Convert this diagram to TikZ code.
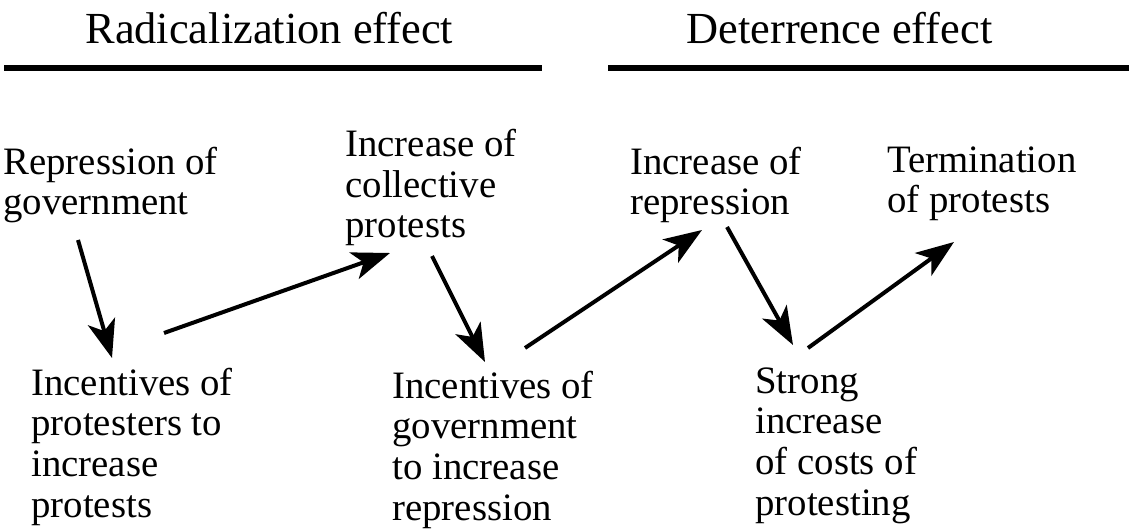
\documentclass[tikz,border=0pt]{standalone}
\usepackage{fontspec}
\setmainfont{Liberation Serif}
\usepackage{tikz}
\usetikzlibrary{arrows.meta}

\begin{document}
\begin{tikzpicture}[
    x=0.5pt, y=-0.5pt,
    lbl/.style={anchor=base west, inner sep=0pt, align=left,
      font=\fontsize{19.4pt}{20.3pt}\selectfont},
    headlbl/.style={lbl, font=\fontsize{22.2pt}{24pt}\selectfont},
    flow/.style={line width=2pt, -{Stealth[length=19pt, width=14pt, inset=5pt]}},
    bar/.style={line width=2.6pt}
]
  \useasboundingbox (0,0) rectangle (1129,529);
  % Headers
  \node[headlbl] (radhead) at (85,44) {Radicalization effect};
  \node[headlbl] (dethead) at (686,44) {Deterrence effect};
  \draw[bar] (4,68) -- (542,68);
  \draw[bar] (608,68) -- (1129,68);
  % Steps (base = last line)
  \node[lbl] (repgov) at (3,215) {Repression of\\government};
  \node[lbl] (incprot) at (31,517) {Incentives of\\protesters to\\increase\\protests};
  \node[lbl] (incoll) at (345,238) {Increase of\\collective\\protests};
  \node[lbl] (incgov) at (392,520) {Incentives of\\government\\to increase\\repression};
  \node[lbl] (increp) at (630,215) {Increase of\\repression};
  \node[lbl] (strong) at (755,515) {Strong\\increase\\of costs of\\protesting};
  \node[lbl] (termin) at (887,213) {Termination\\of protests};
  % Arrow ends
  \coordinate (repgov-out) at (78,240);
  \coordinate (incprot-in) at (112,358);
  \coordinate (incprot-out) at (164,333);
  \coordinate (incoll-in) at (390,253);
  \coordinate (incoll-out) at (432,256);
  \coordinate (incgov-in) at (485,362);
  \coordinate (incgov-out) at (525,348);
  \coordinate (increp-in) at (702,230);
  \coordinate (increp-out) at (727,227);
  \coordinate (strong-in) at (793,345);
  \coordinate (strong-out) at (808,348);
  \coordinate (termin-in) at (954,242);
  % Arrows
  \draw[flow] (repgov-out) -- (incprot-in);
  \draw[flow] (incprot-out) -- (incoll-in);
  \draw[flow] (incoll-out) -- (incgov-in);
  \draw[flow] (incgov-out) -- (increp-in);
  \draw[flow] (increp-out) -- (strong-in);
  \draw[flow] (strong-out) -- (termin-in);
\end{tikzpicture}
\end{document}
